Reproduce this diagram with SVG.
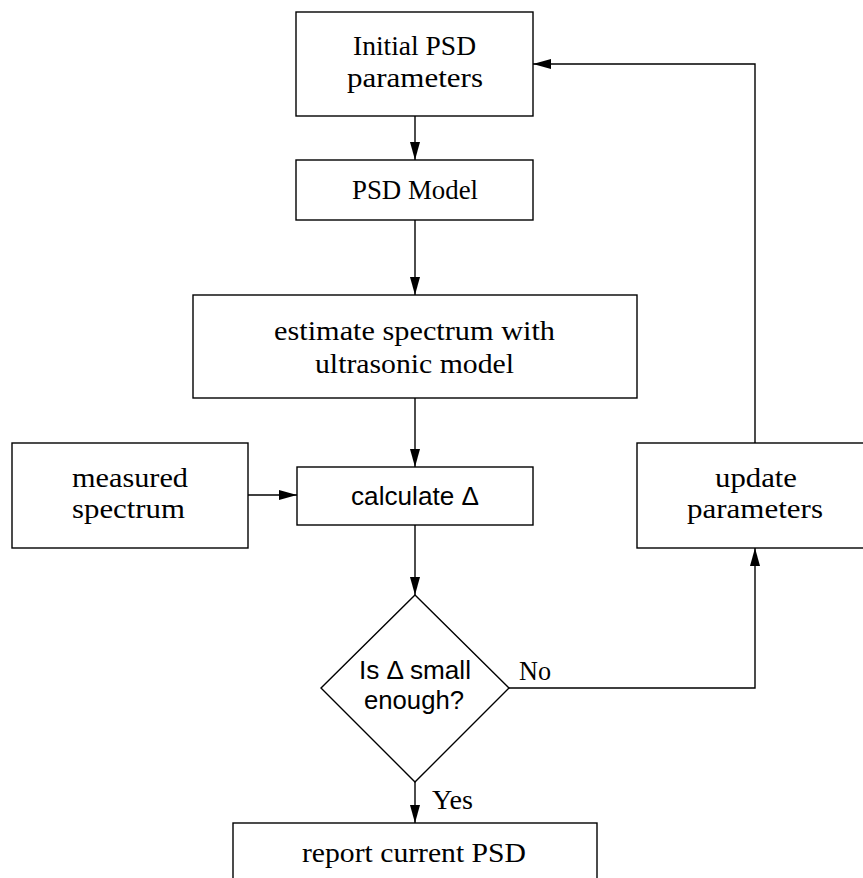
<svg xmlns="http://www.w3.org/2000/svg" width="863" height="878" viewBox="0 0 863 878">
<style>
.box{fill:#fff;stroke:#000;stroke-width:1.4}
.ln{fill:none;stroke:#000;stroke-width:1.4}
.s{font-family:"Liberation Serif","DejaVu Serif",serif;font-size:27px;fill:#000}
.a{font-family:"Liberation Sans",Arial,sans-serif;font-size:25px;fill:#000}
</style>
<defs>
<marker id="arr" markerWidth="18" markerHeight="10" refX="18" refY="5" orient="auto" markerUnits="userSpaceOnUse">
<path d="M0,0 L18,5 L0,10 Z" fill="#000"/>
</marker>
</defs>
<rect width="863" height="878" fill="#fff"/>
<g id="connectors">
<line class="ln" x1="415" y1="116" x2="415" y2="160" marker-end="url(#arr)"/>
<line class="ln" x1="415" y1="220" x2="415" y2="295" marker-end="url(#arr)"/>
<line class="ln" x1="415" y1="398" x2="415" y2="467" marker-end="url(#arr)"/>
<line class="ln" x1="248" y1="495" x2="297" y2="495" marker-end="url(#arr)"/>
<line class="ln" x1="415" y1="525" x2="415" y2="595" marker-end="url(#arr)"/>
<polyline class="ln" points="509,688 755,688 755,548" marker-end="url(#arr)"/>
<polyline class="ln" points="755,443 755,64 533,64" marker-end="url(#arr)"/>
<line class="ln" x1="415" y1="782" x2="415" y2="823" marker-end="url(#arr)"/>
<text class="s" x="519" y="680" textLength="32" lengthAdjust="spacingAndGlyphs">No</text>
<text class="s" x="432" y="809" textLength="41" lengthAdjust="spacingAndGlyphs">Yes</text>
</g>
<g id="initial">
<rect class="box" x="296" y="12" width="237" height="104"/>
<text class="s" x="353" y="55" textLength="123" lengthAdjust="spacingAndGlyphs">Initial PSD</text>
<text class="s" x="347" y="87" textLength="136" lengthAdjust="spacingAndGlyphs">parameters</text>
</g>
<g id="psdmodel">
<rect class="box" x="296" y="160" width="237" height="60"/>
<text class="s" x="352" y="199" textLength="126" lengthAdjust="spacingAndGlyphs">PSD Model</text>
</g>
<g id="estimate">
<rect class="box" x="193" y="295" width="444" height="103"/>
<text class="s" x="274" y="340" textLength="281" lengthAdjust="spacingAndGlyphs">estimate spectrum with</text>
<text class="s" x="315" y="373" textLength="199" lengthAdjust="spacingAndGlyphs">ultrasonic model</text>
</g>
<g id="measured">
<rect class="box" x="12" y="443" width="236" height="105"/>
<text class="s" x="72" y="487" textLength="116" lengthAdjust="spacingAndGlyphs">measured</text>
<text class="s" x="72" y="518" textLength="113" lengthAdjust="spacingAndGlyphs">spectrum</text>
</g>
<g id="calculate">
<rect class="box" x="297" y="467" width="236" height="58"/>
<text class="a" x="351" y="505" textLength="128" lengthAdjust="spacingAndGlyphs">calculate Δ</text>
</g>
<g id="update">
<rect class="box" x="637" y="443" width="236" height="105"/>
<text class="s" x="715" y="487" textLength="82" lengthAdjust="spacingAndGlyphs">update</text>
<text class="s" x="687" y="518" textLength="136" lengthAdjust="spacingAndGlyphs">parameters</text>
</g>
<g id="decision">
<polygon class="box" points="415,595 509,688 415,782 321,688"/>
<text class="a" x="359" y="679" textLength="112" lengthAdjust="spacingAndGlyphs">Is Δ small</text>
<text class="a" x="364" y="709" textLength="100" lengthAdjust="spacingAndGlyphs">enough?</text>
</g>
<g id="report">
<rect class="box" x="233" y="823" width="364" height="80"/>
<text class="s" x="302" y="862" textLength="224" lengthAdjust="spacingAndGlyphs">report current PSD</text>
</g>
</svg>
